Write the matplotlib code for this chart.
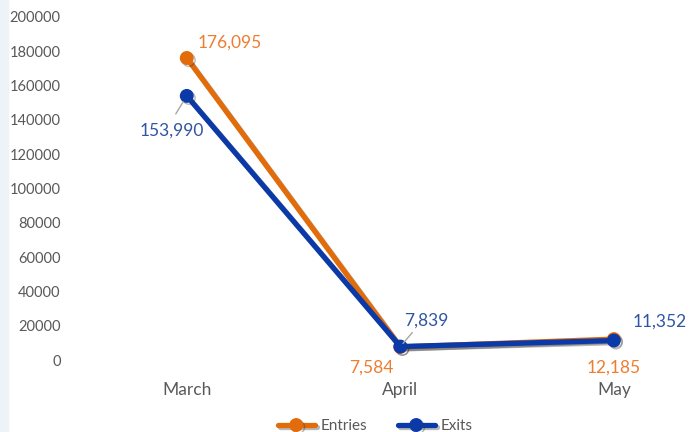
import matplotlib.pyplot as plt
import matplotlib.patheffects as pe
from matplotlib.patches import Rectangle

months = ["March", "April", "May"]
entries = [176095, 7584, 12185]
exits = [153990, 7839, 11352]

orange = "#E26B0A"
blue = "#0B3AA8"
label_orange = "#ED7D31"
label_blue = "#2F55A4"
gray = "#595959"

plt.rcParams['font.family'] = ['Lato', 'DejaVu Sans']

fig = plt.figure(figsize=(6.95, 4.32), dpi=100)
fig.patches.append(Rectangle((0, 0), 8 / 695, 1, transform=fig.transFigure,
                             color="#EEF3F8", zorder=0))
ax = fig.add_axes([80 / 695, 72 / 432, 615 / 695, 343 / 432])

x = list(range(len(months)))
shadow = [pe.SimpleLineShadow(offset=(1.5, -1.5), alpha=0.35, shadow_color="#333333"), pe.Normal()]
ax.plot(x, entries, color=orange, lw=3.8, marker="o", ms=9, label="Entries",
        path_effects=shadow, solid_capstyle="round")
ax.plot(x, exits, color=blue, lw=3.8, marker="o", ms=9, label="Exits",
        path_effects=shadow, solid_capstyle="round")

ax.set_xlim(-0.5, 2.38)
ax.set_ylim(0, 200000)
ax.set_yticks(range(0, 200001, 20000))
ax.set_yticklabels([str(v) for v in range(0, 200001, 20000)])
ax.set_xticks(x)
ax.set_xticklabels(months)
ax.tick_params(axis="y", length=0, labelsize=10.5, labelcolor=gray, pad=14)
ax.tick_params(axis="x", length=0, labelsize=12.5, labelcolor=gray, pad=16)
for s in ax.spines.values():
    s.set_visible(False)

# data labels (offsets in pixels)
entry_offsets = [(43, 15), (-29, -21), (0, -29)]
exit_offsets = [(-15, -35), (26, 26), (46, 19)]
for i in x:
    ax.annotate(f"{entries[i]:,}", (i, entries[i]), xytext=entry_offsets[i],
                textcoords="offset pixels", ha="center", va="center",
                color=label_orange, fontsize=12.5)
    ax.annotate(f"{exits[i]:,}", (i, exits[i]), xytext=exit_offsets[i],
                textcoords="offset pixels", ha="center", va="center",
                color=label_blue, fontsize=12.5)

# leader lines
ax.annotate("", (0, exits[0]), xytext=(-11, -18), textcoords="offset pixels",
            arrowprops=dict(arrowstyle="-", color="#A6A6A6", lw=1, shrinkA=0, shrinkB=5))
ax.annotate("", (1, exits[1]), xytext=(12, 14), textcoords="offset pixels",
            arrowprops=dict(arrowstyle="-", color="#A6A6A6", lw=1, shrinkA=0, shrinkB=3))

fig.legend(loc="lower center", bbox_to_anchor=(0.54, -0.035), ncol=2, frameon=False,
           fontsize=11, labelcolor=gray, handlelength=2.4, handletextpad=0.4,
           columnspacing=2.0)

fig.savefig("out.png", dpi=100)
